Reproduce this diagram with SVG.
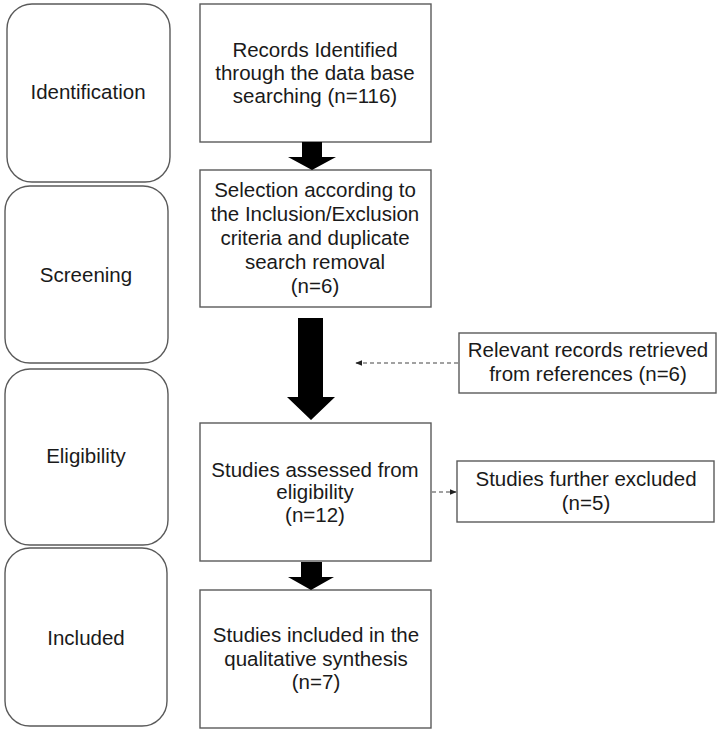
<svg xmlns="http://www.w3.org/2000/svg" width="720" height="731" viewBox="0 0 720 731">
<style>
.stage{fill:#fff;stroke:#5a5a5a;stroke-width:1.4}
.box{fill:#fff;stroke:#5a5a5a;stroke-width:1.4}
text{font-family:"Liberation Sans",Arial,sans-serif;font-size:20.5px;fill:#1a1a1a;text-anchor:middle}
.thick{fill:#000}
.dash{stroke:#444;stroke-width:1.2;stroke-dasharray:4 3;fill:none}
</style>
<defs>
<marker id="ah" viewBox="0 0 10 10" refX="9" refY="5" markerWidth="7" markerHeight="7" markerUnits="userSpaceOnUse" orient="auto">
<path d="M0,1 L10,5 L0,9 z" fill="#222"/>
</marker>
</defs>
<rect width="720" height="731" fill="#fff"/>
<g id="stage-identification"><rect class="stage" x="7" y="4" width="163" height="178" rx="25"/><text x="88" y="99">Identification</text></g>
<g id="stage-screening"><rect class="stage" x="5" y="186" width="163" height="177" rx="25"/><text x="86" y="282">Screening</text></g>
<g id="stage-eligibility"><rect class="stage" x="5" y="369" width="163" height="176" rx="25"/><text x="86" y="463">Eligibility</text></g>
<g id="stage-included"><rect class="stage" x="5" y="548" width="162" height="178" rx="25"/><text x="86" y="645">Included</text></g>
<g id="records"><rect class="box" x="200" y="4" width="231" height="138"/>
<text x="315" y="57">Records Identified</text><text x="315" y="80">through the data base</text><text x="315" y="103">searching (n=116)</text></g>
<g id="selection"><rect class="box" x="200" y="170" width="231" height="137"/>
<text x="315" y="197">Selection according to</text><text x="315" y="221">the Inclusion/Exclusion</text><text x="315" y="245">criteria and duplicate</text><text x="315" y="269">search removal</text><text x="315" y="293">(n=6)</text></g>
<g id="relevant"><rect class="box" x="459" y="333" width="257" height="60"/>
<text x="588" y="357">Relevant records retrieved</text><text x="588" y="381">from references (n=6)</text></g>
<g id="assessed"><rect class="box" x="200" y="423" width="231" height="138"/>
<text x="315" y="477">Studies assessed from</text><text x="315" y="499">eligibility</text><text x="315" y="522">(n=12)</text></g>
<g id="excluded"><rect class="box" x="457" y="461" width="257" height="61"/>
<text x="586" y="486">Studies further excluded</text><text x="586" y="510">(n=5)</text></g>
<g id="included"><rect class="box" x="200" y="590" width="231" height="138"/>
<text x="316" y="642">Studies included in the</text><text x="316" y="666">qualitative synthesis</text><text x="316" y="689">(n=7)</text></g>
<g id="connectors">
<path class="thick" d="M302,142 H322 V157 H336 L312,170 L288,157 H302 Z"/>
<path class="thick" d="M298,318 H323 V397 H335 L311,420 L287,397 H298 Z"/>
<path class="thick" d="M301,562 H322 V577 H334 L311,590 L288,577 H301 Z"/>
<line class="dash" x1="458" y1="363" x2="356" y2="363" marker-end="url(#ah)"/>
<line class="dash" x1="432" y1="492" x2="456" y2="492" marker-end="url(#ah)"/>
</g>
</svg>
